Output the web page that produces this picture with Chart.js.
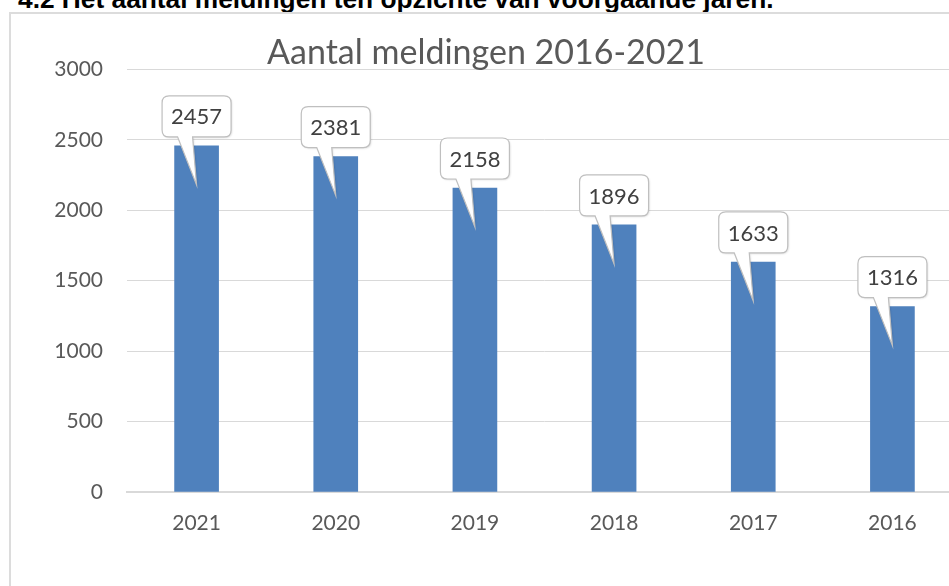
<!DOCTYPE html>
<html>
<head>
<meta charset="utf-8">
<script src="https://cdn.jsdelivr.net/npm/chart.js@4/dist/chart.umd.min.js"></script>
<style>
  html, body { margin: 0; padding: 0; width: 949px; height: 586px; overflow: hidden; background: #fff; }
  #heading { position: absolute; left: 18px; top: -14px; font: bold 26.3px "Liberation Sans", Arial, sans-serif; line-height: 1; color: #000; white-space: nowrap; }
  #frame { position: absolute; left: 9px; top: 12px; width: 1000px; height: 700px; border: 2px solid #dcdcdc; box-sizing: border-box; }
  #wrap { position: absolute; left: 10px; top: 14px; width: 952px; height: 572px; }
</style>
</head>
<body>
<div id="heading">4.2 Het aantal meldingen ten opzichte van voorgaande jaren.</div>
<div id="frame"></div>
<div id="wrap"><canvas id="c" width="952" height="572"></canvas></div>
<script>
const categories = ["2021", "2020", "2019", "2018", "2017", "2016"];
const meldingen = [2457, 2381, 2158, 1896, 1633, 1316];
const yTicks = [0, 500, 1000, 1500, 2000, 2500, 3000];
const chartTitle = "Aantal meldingen 2016-2021";

const FONT = "Lato, 'Open Sans', sans-serif";

const calloutPlugin = {
  id: 'callouts',
  afterDatasetsDraw(chart) {
    const ctx = chart.ctx;
    const meta = chart.getDatasetMeta(0);
    meta.data.forEach((bar, i) => {
      const x = bar.x, y = bar.y;
      const w = 69, h = 41, r = 7;
      const left = x - w / 2, bottom = y - 9, top = bottom - h, right = left + w;
      const tipX = x, tipY = y + 39;
      const b1 = x - 19, b2 = x - 4;
      ctx.save();
      ctx.beginPath();
      ctx.moveTo(left + r, top);
      ctx.lineTo(right - r, top);
      ctx.quadraticCurveTo(right, top, right, top + r);
      ctx.lineTo(right, bottom - r);
      ctx.quadraticCurveTo(right, bottom, right - r, bottom);
      ctx.lineTo(b2, bottom);
      ctx.lineTo(tipX, tipY);
      ctx.lineTo(b1, bottom);
      ctx.lineTo(left + r, bottom);
      ctx.quadraticCurveTo(left, bottom, left, bottom - r);
      ctx.lineTo(left, top + r);
      ctx.quadraticCurveTo(left, top, left + r, top);
      ctx.closePath();
      ctx.shadowColor = 'rgba(0,0,0,0.15)';
      ctx.shadowBlur = 2;
      ctx.shadowOffsetX = 1;
      ctx.shadowOffsetY = 1;
      ctx.fillStyle = '#ffffff';
      ctx.fill();
      ctx.shadowColor = 'transparent';
      ctx.strokeStyle = '#bfbfbf';
      ctx.lineWidth = 1.2;
      ctx.stroke();
      ctx.fillStyle = '#404040';
      ctx.font = "22px " + FONT;
      ctx.textAlign = 'center';
      ctx.textBaseline = 'middle';
      ctx.fillText(String(meldingen[i]), x, (top + bottom) / 2 + 1);
      ctx.restore();
    });
  }
};

new Chart(document.getElementById('c'), {
  type: 'bar',
  data: {
    labels: categories,
    datasets: [{
      label: 'Aantal meldingen',
      data: meldingen,
      backgroundColor: '#4f81bd',
      borderWidth: 0,
      barThickness: 44
    }]
  },
  options: {
    responsive: false,
    animation: false,
    layout: { padding: { top: 0, left: 0, right: 0, bottom: 0 } },
    plugins: {
      legend: { display: false },
      tooltip: { enabled: false },
      title: {
        display: true,
        text: chartTitle,
        color: '#595959',
        font: { family: FONT, size: 34, weight: 'normal', lineHeight: 1.1 },
        padding: { top: 20, bottom: -2 }
      }
    },
    scales: {
      x: {
        grid: { display: false, drawTicks: false },
        border: { display: true, color: '#d9d9d9', width: 2 },
        ticks: { color: '#595959', font: { family: FONT, size: 21 }, padding: 19 },
        afterFit: s => { s.height = 94; }
      },
      y: {
        min: 0, max: 3000,
        afterBuildTicks: s => { s.ticks = yTicks.map(v => ({ value: v })); },
        grid: { color: '#d9d9d9', lineWidth: 1, drawTicks: false },
        border: { display: false },
        ticks: { color: '#595959', font: { family: FONT, size: 21 }, padding: 24, callback: v => String(v) },
        afterFit: s => { s.width = 117; }
      }
    }
  },
  plugins: [calloutPlugin]
});
</script>
</body>
</html>
